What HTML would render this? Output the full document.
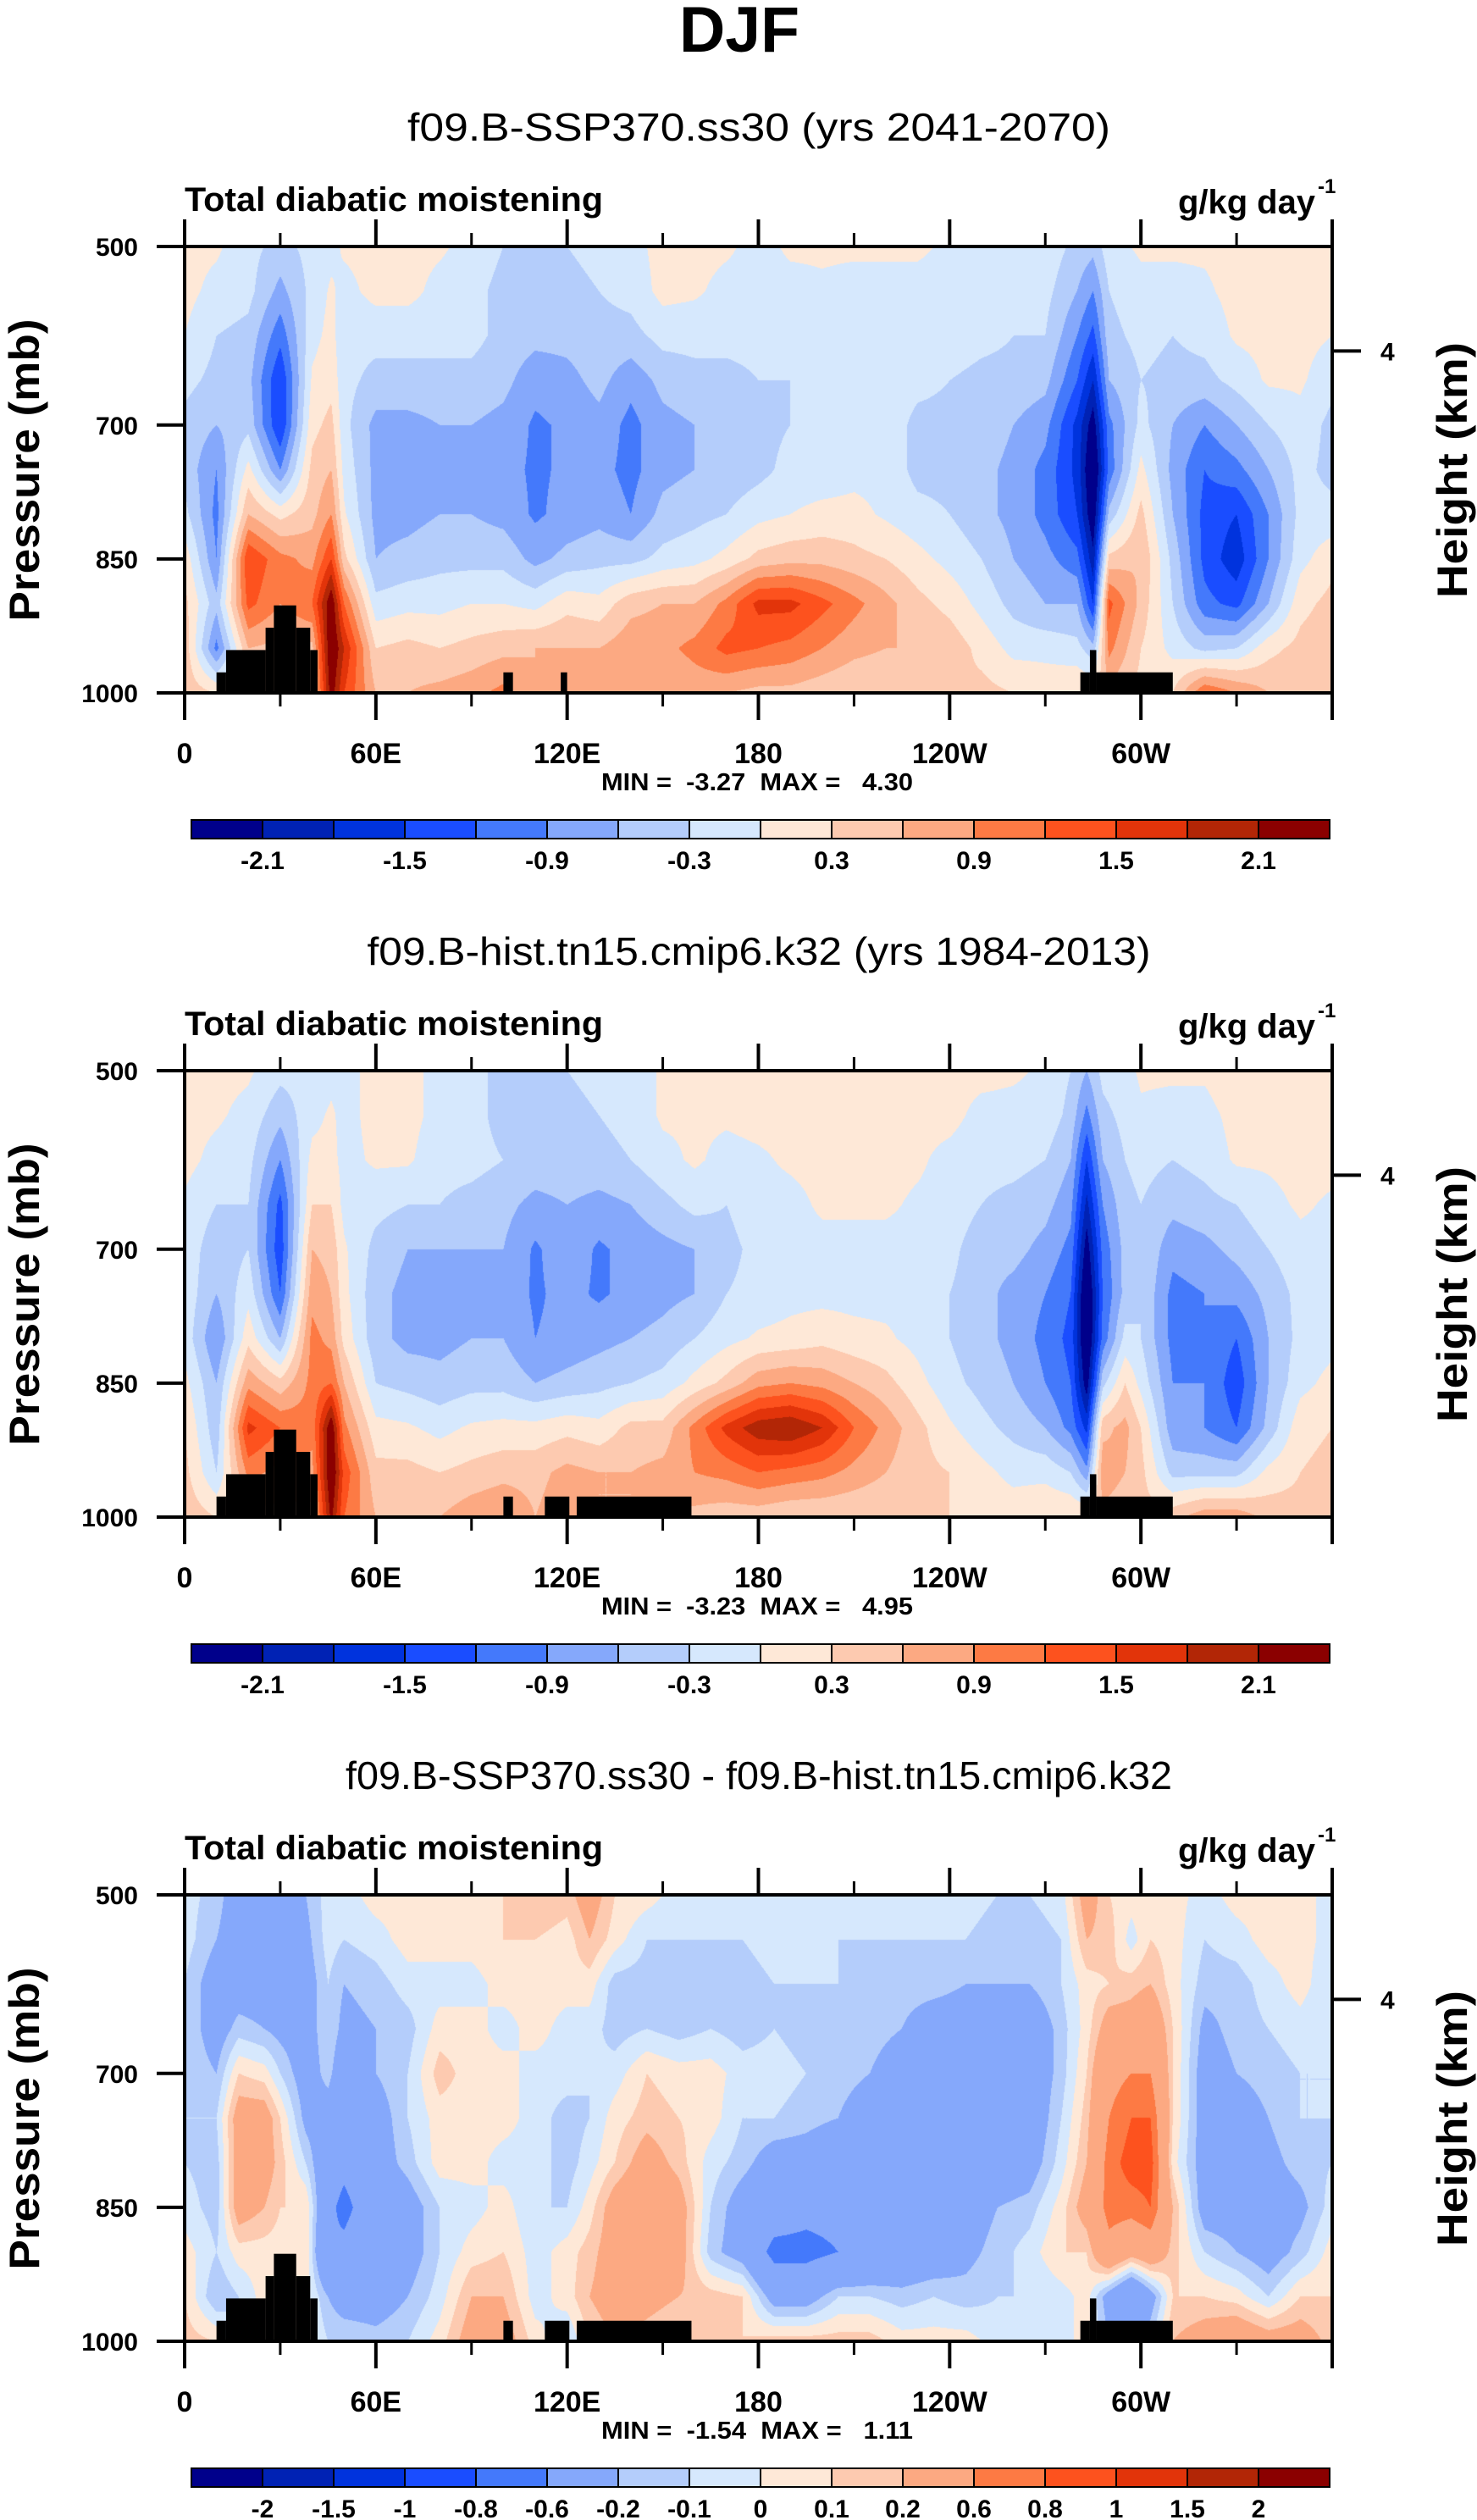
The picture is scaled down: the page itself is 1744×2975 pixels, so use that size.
<!DOCTYPE html>
<html><head><meta charset="utf-8">
<style>
html,body{margin:0;padding:0;background:#fff;}
#wrap{position:relative;width:1744px;height:2975px;overflow:hidden;background:#fff;}
canvas{position:absolute;}
svg{position:absolute;left:0;top:0;}
.pre{white-space:pre;}
</style></head>
<body>
<div id="wrap">
<canvas id="c0" width="1355" height="527" style="left:218px;top:291px"></canvas>
<canvas id="c1" width="1355" height="527" style="left:218px;top:1264px"></canvas>
<canvas id="c2" width="1355" height="527" style="left:218px;top:2237px"></canvas>
<svg id="svg" width="1744" height="2975" xmlns="http://www.w3.org/2000/svg">
<text x="873" y="61" font-family="Liberation Sans, sans-serif" font-weight="bold" font-size="76" text-anchor="middle" textLength="142" lengthAdjust="spacingAndGlyphs">DJF</text>
</svg>
</div>
<script>
// ---- data ----
const levels = [500,550,600,650,700,750,800,850,900,950,1000];

const lons1 = [0,10,20,30,40,46,50,60,70,80,90,100,110,120,130,140,150,160,170,180,190,200,210,220,230,240,250,260,270,280,285,290,300,310,320,330,340,350,360];
const vals1 = [
[0.1,0.1,0,-0.2,-0.4,-0.4,-0.2,0.2,0.4,0.5,0.5],
[0.05,-0.1,-0.3,-0.4,-0.6,-0.9,-1.0,-0.9,-0.5,-1.0,0.3],
[-0.2,-0.2,-0.4,-0.5,-0.4,0.1,0.6,1.5,1.3,0.6,0.5],
[-0.4,-0.7,-1.1,-1.5,-1.5,-0.9,0.2,1.0,0.9,0.5,0.5],
[-0.2,-0.2,-0.1,0.05,0.2,0.4,0.5,0.8,1.2,0.5,0.3],
[-0.1,0.05,0.1,0.2,0.4,0.6,0.9,1.5,2.4,2.5,2.3],
[0.05,-0.1,-0.2,-0.2,-0.2,-0.1,0.05,0.4,1.2,1.8,1.5],
[0.1,0.1,-0.2,-0.4,-0.7,-0.7,-0.7,-0.6,-0.2,0.3,0.6],
[0.1,0.1,-0.2,-0.4,-0.7,-0.7,-0.7,-0.5,-0.1,0.4,0.6],
[0.05,-0.1,-0.2,-0.4,-0.6,-0.7,-0.6,-0.4,-0.1,0.3,0.7],
[-0.1,-0.2,-0.2,-0.4,-0.6,-0.7,-0.6,-0.4,0,0.4,0.8],
[-0.3,-0.4,-0.4,-0.5,-0.7,-0.8,-0.7,-0.4,0,0.5,1.0],
[-0.4,-0.4,-0.5,-0.8,-0.95,-0.95,-0.95,-0.7,-0.1,0.6,0.6],
[-0.3,-0.4,-0.5,-0.7,-0.85,-0.85,-0.8,-0.5,0.2,0.6,0.8],
[-0.2,-0.3,-0.4,-0.5,-0.7,-0.8,-0.7,-0.4,0.1,0.6,0.8],
[-0.1,-0.2,-0.4,-0.8,-1.0,-1.0,-0.9,-0.4,0.5,0.8,0.7],
[0.1,0.1,-0.2,-0.5,-0.7,-0.7,-0.5,-0.2,0.6,0.8,0.6],
[0.1,0.05,-0.2,-0.4,-0.6,-0.6,-0.4,-0.1,0.6,1.0,0.7],
[0.05,-0.1,-0.2,-0.4,-0.6,-0.5,-0.3,0.1,1.0,1.3,0.6],
[-0.1,-0.1,-0.2,-0.3,-0.4,-0.4,-0.1,0.4,1.6,1.2,0.5],
[0.05,-0.1,-0.2,-0.3,-0.3,-0.2,0,0.5,1.6,1.1,0.5],
[0.05,-0.05,-0.2,-0.2,-0.2,-0.2,0.1,0.5,1.3,0.9,0.4],
[0.05,-0.1,-0.1,-0.1,-0.1,-0.1,0.1,0.4,1.0,0.7,0.3],
[0.05,-0.1,-0.1,-0.1,-0.1,-0.1,-0.05,0.3,0.7,0.6,0.3],
[0.05,-0.1,-0.1,-0.2,-0.4,-0.4,-0.2,0.1,0.4,0.6,0.3],
[-0.05,-0.1,-0.1,-0.3,-0.4,-0.4,-0.3,-0.1,0.2,0.5,0.3],
[-0.1,-0.1,-0.2,-0.4,-0.4,-0.5,-0.5,-0.3,-0.1,0.2,0.4],
[-0.1,-0.1,-0.3,-0.4,-0.6,-0.7,-0.7,-0.6,-0.4,-0.1,0.3],
[-0.1,-0.2,-0.3,-0.5,-0.8,-1.0,-1.0,-0.8,-0.6,-0.1,0.2],
[-0.4,-0.6,-0.9,-1.2,-1.6,-1.6,-1.5,-1.1,-0.6,-0.2,0.3],
[-0.5,-0.9,-1.3,-1.8,-2.3,-2.6,-2.4,-2.0,-1.5,-0.5,0.3],
[-0.1,-0.3,-0.4,-0.6,-1.0,-1.1,-0.5,0.4,1.3,1.0,0.5],
[0.05,-0.1,-0.2,-0.3,-0.2,0.1,0.4,0.6,0.5,0.3,0.2],
[0.05,-0.1,-0.3,-0.4,-0.6,-0.7,-0.6,-0.4,-0.3,-0.1,0.3],
[0.05,-0.05,-0.2,-0.4,-0.9,-1.2,-1.3,-1.3,-1.1,-0.4,1.2],
[0.1,0.1,0.05,-0.2,-0.6,-1.0,-1.5,-1.7,-1.3,-0.3,0.9],
[0.1,0.1,0.1,0.05,-0.3,-0.6,-0.9,-0.9,-0.6,0.2,0.6],
[0.1,0.1,0.1,0.05,-0.1,-0.2,-0.2,-0.1,0.2,0.4,0.5],
[0.1,0.1,0,-0.2,-0.4,-0.4,-0.2,0.2,0.4,0.5,0.5]
];

const lons2 = [0,10,20,30,40,46,50,60,70,80,90,100,110,120,130,140,150,160,170,180,190,200,210,220,230,240,250,260,270,278,283,288,295,300,310,320,330,340,350,360];
const vals2 = [
[0.1,0.1,0.1,-0.05,-0.1,-0.1,-0.1,0.1,0.3,0.4,0.5],
[0.1,0.05,-0.1,-0.3,-0.5,-0.6,-0.9,-0.6,-0.5,-0.3,0.3],
[0.05,-0.1,-0.2,-0.3,-0.3,-0.1,0.2,0.8,1.6,1.0,0.5],
[-0.2,-0.5,-0.9,-1.3,-1.4,-1.2,-0.6,0.4,1.2,0.8,0.5],
[-0.2,-0.1,0.1,0.3,0.6,0.8,1.0,1.0,1.0,0.8,0.5],
[-0.1,0.05,0.1,0.3,0.5,0.6,0.8,1.2,2.4,2.5,2.2],
[-0.1,-0.1,-0.1,-0.1,0.05,0.1,0.2,0.6,1.0,1.4,1.2],
[0.1,0.1,0.05,-0.2,-0.4,-0.5,-0.5,-0.3,0.1,0.4,0.6],
[0.1,0.1,0.05,-0.3,-0.6,-0.7,-0.7,-0.4,0.05,0.4,0.6],
[-0.1,-0.1,-0.2,-0.3,-0.6,-0.7,-0.7,-0.5,-0.1,0.3,0.6],
[-0.2,-0.2,-0.2,-0.4,-0.6,-0.7,-0.6,-0.4,0.05,0.4,0.8],
[-0.4,-0.4,-0.3,-0.5,-0.6,-0.7,-0.6,-0.4,0.1,0.5,0.9],
[-0.3,-0.3,-0.4,-0.7,-0.95,-0.95,-0.9,-0.6,0.1,0.5,0.6],
[-0.3,-0.4,-0.4,-0.6,-0.7,-0.8,-0.8,-0.5,0.2,0.7,0.8],
[-0.2,-0.3,-0.4,-0.7,-0.95,-0.95,-0.7,-0.4,0.1,0.6,0.6],
[-0.2,-0.2,-0.3,-0.6,-0.8,-0.8,-0.6,-0.3,0.4,0.6,0.6],
[0.05,0.05,-0.1,-0.4,-0.7,-0.7,-0.5,-0.2,0.4,0.7,0.6],
[0.05,0.05,0.05,-0.2,-0.6,-0.6,-0.3,0.1,1.0,0.9,0.5],
[0.1,0.05,-0.1,-0.3,-0.4,-0.3,-0.1,0.4,1.6,1.0,0.4],
[0.1,0.1,-0.05,-0.1,-0.2,-0.2,0.05,0.8,2.0,1.2,0.4],
[0.1,0.1,0.05,-0.1,-0.1,-0.1,0.1,0.9,2.1,1.1,0.3],
[0.1,0.1,0.1,0.05,-0.1,-0.1,0.2,0.8,1.8,1.0,0.3],
[0.1,0.1,0.1,0.05,-0.1,-0.1,0.1,0.6,1.2,0.8,0.3],
[0.1,0.1,0.1,0.05,-0.1,-0.1,0.05,0.4,0.8,0.6,0.3],
[0.1,0.1,0.05,-0.05,-0.1,-0.1,-0.1,0.1,0.4,0.4,0.3],
[0.1,0.1,-0.1,-0.1,-0.2,-0.3,-0.3,-0.2,0.05,0.3,0.3],
[0.1,-0.1,-0.2,-0.3,-0.5,-0.5,-0.5,-0.4,-0.2,0.1,0.2],
[0.05,-0.1,-0.2,-0.4,-0.5,-0.7,-0.7,-0.6,-0.4,-0.1,0.2],
[-0.05,-0.1,-0.3,-0.5,-0.7,-0.9,-1.0,-0.9,-0.6,-0.1,0.3],
[-0.3,-0.4,-0.6,-0.8,-1.0,-1.2,-1.3,-1.2,-1.0,-0.3,0.3],
[-0.6,-1.0,-1.5,-1.9,-2.3,-2.6,-2.6,-2.3,-1.6,-0.8,0.3],
[-0.2,-0.4,-0.6,-0.9,-1.1,-1.2,-1.1,-0.4,0.5,0.8,0.5],
[-0.1,-0.2,-0.3,-0.4,-0.5,-0.5,-0.2,0.3,0.7,0.6,0.4],
[0.05,-0.05,-0.2,-0.3,-0.3,-0.3,-0.3,-0.1,0.3,0.4,0.4],
[0.05,-0.1,-0.3,-0.5,-0.8,-1.0,-1.0,-0.9,-0.8,-0.4,0.5],
[0.05,-0.1,-0.2,-0.4,-0.7,-0.9,-0.9,-0.9,-0.9,-0.4,0.8],
[0.2,0.1,0.05,-0.3,-0.5,-0.8,-1.2,-1.4,-1.2,-0.4,0.8],
[0.2,0.1,0.05,-0.1,-0.3,-0.5,-0.6,-0.6,-0.5,0.1,0.5],
[0.1,0.1,0.1,0.05,-0.1,-0.2,-0.2,-0.1,0.2,0.3,0.4],
[0.1,0.1,0.1,-0.05,-0.1,-0.1,-0.1,0.1,0.3,0.4,0.5]
];

const lons3 = [0,10,17,25,30,38,45,50,60,70,80,90,100,110,120,127,135,145,155,165,175,185,195,205,215,225,235,245,255,265,275,283,290,297,303,310,320,330,340,350,360];
const vals3 = [
[-0.05,-0.05,-0.1,-0.1,-0.1,-0.1,-0.1,-0.05,0.05,0.1,0.15],
[-0.15,-0.2,-0.3,-0.3,-0.2,-0.1,-0.15,-0.15,-0.1,-0.2,0.1],
[-0.3,-0.3,-0.3,-0.15,0.1,0.3,0.3,0.3,0.05,-0.1,-0.1],
[-0.3,-0.3,-0.3,-0.2,0.05,0.3,0.3,0.2,0.05,0.05,0.05],
[-0.4,-0.4,-0.3,-0.25,-0.1,0.1,0.15,0.1,0.05,0.05,0.05],
[-0.2,-0.25,-0.3,-0.3,-0.3,-0.25,-0.1,0.1,0.1,0.05,0.05],
[-0.05,-0.05,-0.1,-0.1,-0.15,-0.3,-0.4,-0.5,-0.6,-0.2,-0.1],
[-0.05,-0.1,-0.2,-0.25,-0.35,-0.4,-0.5,-0.7,-0.5,-0.3,-0.1],
[0.05,-0.05,-0.15,-0.2,-0.2,-0.3,-0.3,-0.35,-0.3,-0.3,-0.15],
[0.05,0.05,-0.05,-0.15,-0.1,-0.1,-0.15,-0.3,-0.3,-0.2,-0.1],
[0.05,0.05,-0.05,0.05,0.15,0.05,0.05,-0.1,-0.1,-0.05,0.05],
[0.1,0.05,-0.05,0.05,0.05,0.05,0.05,-0.05,0.05,0.2,0.3],
[0.1,0.1,0.05,-0.05,0.05,0.05,-0.05,0.05,0.1,0.2,0.3],
[0.2,0.1,0.05,0.05,-0.05,-0.05,-0.05,-0.1,-0.05,-0.05,0.05],
[0.15,0.05,0.05,-0.05,-0.05,-0.15,-0.15,-0.1,0.05,0.05,-0.1],
[0.3,0.2,0.05,-0.05,-0.1,-0.1,-0.05,0.05,0.15,0.2,0.1],
[0.1,0.05,-0.15,-0.15,-0.05,0.05,0.1,0.3,0.3,0.3,0.2],
[0.05,-0.1,-0.15,-0.1,0.1,0.15,0.3,0.4,0.35,0.25,0.15],
[-0.05,-0.1,-0.15,-0.15,0.05,0.1,0.15,0.3,0.3,0.2,0.1],
[-0.05,-0.1,-0.1,-0.1,0.05,0.05,-0.05,-0.1,-0.15,0.15,0.1],
[-0.05,-0.1,-0.15,-0.15,-0.05,-0.1,-0.15,-0.3,-0.3,0.1,0.1],
[-0.05,-0.05,-0.1,-0.1,-0.05,-0.1,-0.3,-0.4,-0.7,-0.3,0.15],
[-0.05,-0.05,-0.1,-0.15,-0.1,-0.15,-0.3,-0.5,-0.7,-0.3,0.15],
[-0.05,-0.1,-0.1,-0.15,-0.15,-0.2,-0.4,-0.5,-0.6,-0.1,0.15],
[-0.05,-0.1,-0.15,-0.15,-0.2,-0.3,-0.4,-0.5,-0.5,-0.1,0.15],
[-0.05,-0.1,-0.15,-0.2,-0.3,-0.35,-0.4,-0.45,-0.4,-0.15,0.05],
[-0.05,-0.1,-0.15,-0.3,-0.35,-0.4,-0.45,-0.45,-0.35,-0.1,0.05],
[-0.05,-0.1,-0.2,-0.3,-0.35,-0.4,-0.4,-0.3,-0.25,-0.15,0.05],
[-0.1,-0.15,-0.2,-0.3,-0.35,-0.4,-0.35,-0.2,-0.15,-0.1,-0.05],
[-0.1,-0.15,-0.2,-0.35,-0.35,-0.35,-0.3,-0.15,-0.05,-0.1,-0.05],
[-0.05,-0.1,-0.1,-0.15,-0.15,-0.1,-0.05,0.05,0.1,-0.05,-0.05],
[0.3,0.2,0.05,0.05,0.1,0.15,0.2,0.3,0.1,0.05,0.05],
[0.1,0.15,0.1,0.3,0.5,0.6,0.7,0.7,0.5,-0.3,-0.2],
[0.05,-0.05,0.15,0.3,0.6,0.8,0.9,0.7,0.3,-0.6,-0.3],
[0.1,0.1,0.2,0.4,0.6,0.8,0.9,0.8,0.4,-0.3,-0.1],
[0.05,0.05,0.05,0.1,0.1,0.1,0.05,0.2,0.15,0.1,0.2],
[-0.05,-0.1,-0.15,-0.25,-0.3,-0.3,-0.3,-0.3,-0.1,0.1,0.3],
[0.05,-0.05,-0.15,-0.15,-0.2,-0.3,-0.3,-0.3,-0.2,0.05,0.4],
[0.05,0.05,-0.05,-0.1,-0.15,-0.2,-0.25,-0.3,-0.3,-0.1,0.3],
[0.05,0.05,0.05,-0.05,-0.1,-0.1,-0.15,-0.25,-0.15,0.1,0.3],
[-0.05,-0.05,-0.1,-0.1,-0.1,-0.1,-0.1,-0.05,0.05,0.1,0.15]
];

const bounds12 = [-2.1,-1.8,-1.5,-1.2,-0.9,-0.6,-0.3,0,0.3,0.6,0.9,1.2,1.5,1.8,2.1];
const labels12 = ["-2.1","","-1.5","","-0.9","","-0.3","","0.3","","0.9","","1.5","","2.1"];
const bounds3 = [-2,-1.5,-1,-0.8,-0.6,-0.2,-0.1,0,0.1,0.2,0.6,0.8,1,1.5,2];
const labels3 = ["-2","-1.5","-1","-0.8","-0.6","-0.2","-0.1","0","0.1","0.2","0.6","0.8","1","1.5","2"];
const colors = ['#00008b','#0022b4','#0033dd','#1a4dff','#4479fb','#85a8fb','#b4cdfb','#d6e8fd','#fee8d7','#fdcab0','#fca982','#fd7a44','#fd521e','#e2340a','#b22606','#8b0000'];

const terrain1 = [[10,13,977],[13,25.4,952],[25.4,28,927],[28,35,902],[35,39.4,927],[39.4,41.7,952],[100,103,977],[118,120,977],[281,284,977],[284,286,952],[286,310,977]];
const terrain2 = [[10,13,977],[13,25.4,952],[25.4,28,927],[28,35,902],[35,39.4,927],[39.4,41.7,952],[100,103,977],[113,120.7,977],[123,159,977],[281,284,977],[284,286,952],[286,310,977]];

const titles = ["f09.B-SSP370.ss30 (yrs 2041-2070)","f09.B-hist.tn15.cmip6.k32 (yrs 1984-2013)","f09.B-SSP370.ss30 - f09.B-hist.tn15.cmip6.k32"];
const titleLens = [830,925,976];
const minmax = ["MIN =  -3.27  MAX =   4.30","MIN =  -3.23  MAX =   4.95","MIN =  -1.54  MAX =   1.11"];
const xTickLons = [0,60,120,180,240,300];
const xTickLabels = ["0","60E","120E","180","120W","60W"];
const pTicks = [500,700,850,1000];
const heightTickP = 617;

// ---- layout ----
const X0=218, Y0=291, W=1355, H=527, DY=973;
function xOf(lon){return X0+lon/360*W;}
function yOf(p){return Y0+(p-500)/500*H;}

function interp(lons, vals, lon, p){
  let i=0; while(i<lons.length-2 && lon>lons[i+1]) i++;
  const t=Math.max(0,Math.min(1,(lon-lons[i])/(lons[i+1]-lons[i])));
  let j=Math.floor((p-500)/50); if(j<0)j=0; if(j>9)j=9;
  const s=Math.max(0,Math.min(1,(p-levels[j])/50));
  const a=vals[i][j]*(1-s)+vals[i][j+1]*s;
  const b=vals[i+1][j]*(1-s)+vals[i+1][j+1]*s;
  return a*(1-t)+b*t;
}
function hex(c){return [parseInt(c.substr(1,2),16),parseInt(c.substr(3,2),16),parseInt(c.substr(5,2),16)];}
const rgb = colors.map(hex);

function drawField(id, lons, vals, bounds){
  const cv=document.getElementById(id), ctx=cv.getContext('2d');
  const img=ctx.createImageData(W,H), d=img.data;
  for(let px=0;px<W;px++){
    const lon=(px+0.5)/W*360;
    for(let py=0;py<H;py++){
      const p=500+(py+0.5)/H*500;
      const v=interp(lons,vals,lon,p);
      let k=0; while(k<bounds.length && v>=bounds[k]) k++;
      const c=rgb[k], o=(py*W+px)*4;
      d[o]=c[0];d[o+1]=c[1];d[o+2]=c[2];d[o+3]=255;
    }
  }
  ctx.putImageData(img,0,0);
}
drawField('c0',lons1,vals1,bounds12);
drawField('c1',lons2,vals2,bounds12);
drawField('c2',lons3,vals3,bounds3);

const NS='http://www.w3.org/2000/svg';
const svg=document.getElementById('svg');
function mk(tag, attrs, parent){
  const e=document.createElementNS(NS,tag);
  for(const k in attrs) e.setAttribute(k,attrs[k]);
  (parent||svg).appendChild(e); return e;
}
const FONT='Liberation Sans, Arial, sans-serif';

for(let k=0;k<3;k++){
  const g=mk('g',{transform:'translate(0,'+(k*DY)+')'});
  
  
  const st=mk('text',{x:896,y:166,'font-family':FONT,'font-size':46,'text-anchor':'middle',textLength:titleLens[k],lengthAdjust:'spacingAndGlyphs'},g);
  st.textContent=titles[k];
  
  
  const ls=mk('text',{x:218,y:249,'font-family':FONT,'font-weight':'bold','font-size':40,textLength:494,lengthAdjust:'spacingAndGlyphs'},g);
  ls.textContent='Total diabatic moistening';
  
  
  const us=mk('text',{x:1391,y:252,'font-family':FONT,'font-weight':'bold','font-size':40,textLength:162,lengthAdjust:'spacingAndGlyphs'},g);
  us.textContent='g/kg day';
  
  
  const sup=mk('text',{x:1556,y:228,'font-family':FONT,'font-weight':'bold','font-size':24},g);
  sup.textContent='-1';
  
  
  const terr = k===0?terrain1:terrain2;
  terr.forEach(t=>{
    const r=mk('rect',{x:xOf(t[0]),y:yOf(t[2]),width:xOf(t[1])-xOf(t[0]),height:yOf(1000)-yOf(t[2]),fill:'#000'},g);
    
    
  });
  const fr=mk('rect',{x:X0,y:Y0,width:W,height:H,fill:'none',stroke:'#000','stroke-width':4},g);
  
  
  for(let lon=0;lon<=360;lon+=30){
    const major=lon%60===0, len=major?32:16, x=xOf(lon);
    const tb=mk('line',{x1:x,y1:yOf(1000),x2:x,y2:yOf(1000)+len,stroke:'#000','stroke-width':major?4:3},g);
    
    
    const tt=mk('line',{x1:x,y1:yOf(500),x2:x,y2:yOf(500)-len,stroke:'#000','stroke-width':major?4:3},g);
    
    
  }
  xTickLons.forEach((lon,i)=>{
    const t=mk('text',{x:xOf(lon),y:901,'font-family':FONT,'font-weight':'bold','font-size':34,'text-anchor':'middle'},g);
    t.textContent=xTickLabels[i];
    
    
  });
  pTicks.forEach(p=>{
    const y=yOf(p);
    const l=mk('line',{x1:X0-33,y1:y,x2:X0,y2:y,stroke:'#000','stroke-width':4},g);
    
    
    const t=mk('text',{x:163,y:y+11,'font-family':FONT,'font-weight':'bold','font-size':30,'text-anchor':'end'},g);
    t.textContent=String(p);
    
    
  });
  const hy=yOf(heightTickP);
  const hl=mk('line',{x1:X0+W,y1:hy,x2:X0+W+34,y2:hy,stroke:'#000','stroke-width':4},g);
  
  
  const ht=mk('text',{x:1630,y:hy+11,'font-family':FONT,'font-weight':'bold','font-size':30},g);
  ht.textContent='4';
  
  
  const pl=mk('text',{x:0,y:0,'font-family':FONT,'font-weight':'bold','font-size':50,'text-anchor':'middle',textLength:357,lengthAdjust:'spacingAndGlyphs',transform:'translate(46,555) rotate(-90)'},g);
  pl.textContent='Pressure (mb)';
  
  
  const hl2=mk('text',{x:0,y:0,'font-family':FONT,'font-weight':'bold','font-size':50,'text-anchor':'middle',textLength:302,lengthAdjust:'spacingAndGlyphs',transform:'translate(1732,555) rotate(-90)'},g);
  hl2.textContent='Height (km)';
  
  
  const mm=mk('text',{x:894,y:933,'font-family':FONT,'font-weight':'bold','font-size':29,'text-anchor':'middle',textLength:368,lengthAdjust:'spacingAndGlyphs','class':'pre'},g);
  mm.textContent=minmax[k];
  
  
  const bnds = k<2?bounds12:bounds3, labs = k<2?labels12:labels3;
  const cbX=226, cbW=1344, cbY=968, cbH=22, bw=cbW/colors.length;
  colors.forEach((c,i)=>{
    const r=mk('rect',{x:cbX+i*bw,y:cbY,width:bw,height:cbH,fill:c,stroke:'#000','stroke-width':2},g);
    
    
  });
  bnds.forEach((b,i)=>{
    if(!labs[i]) return;
    const t=mk('text',{x:cbX+(i+1)*bw,y:1026,'font-family':FONT,'font-weight':'bold','font-size':30,'text-anchor':'middle'},g);
    t.textContent=labs[i];
    
    
  });
}
</script>
</body></html>
